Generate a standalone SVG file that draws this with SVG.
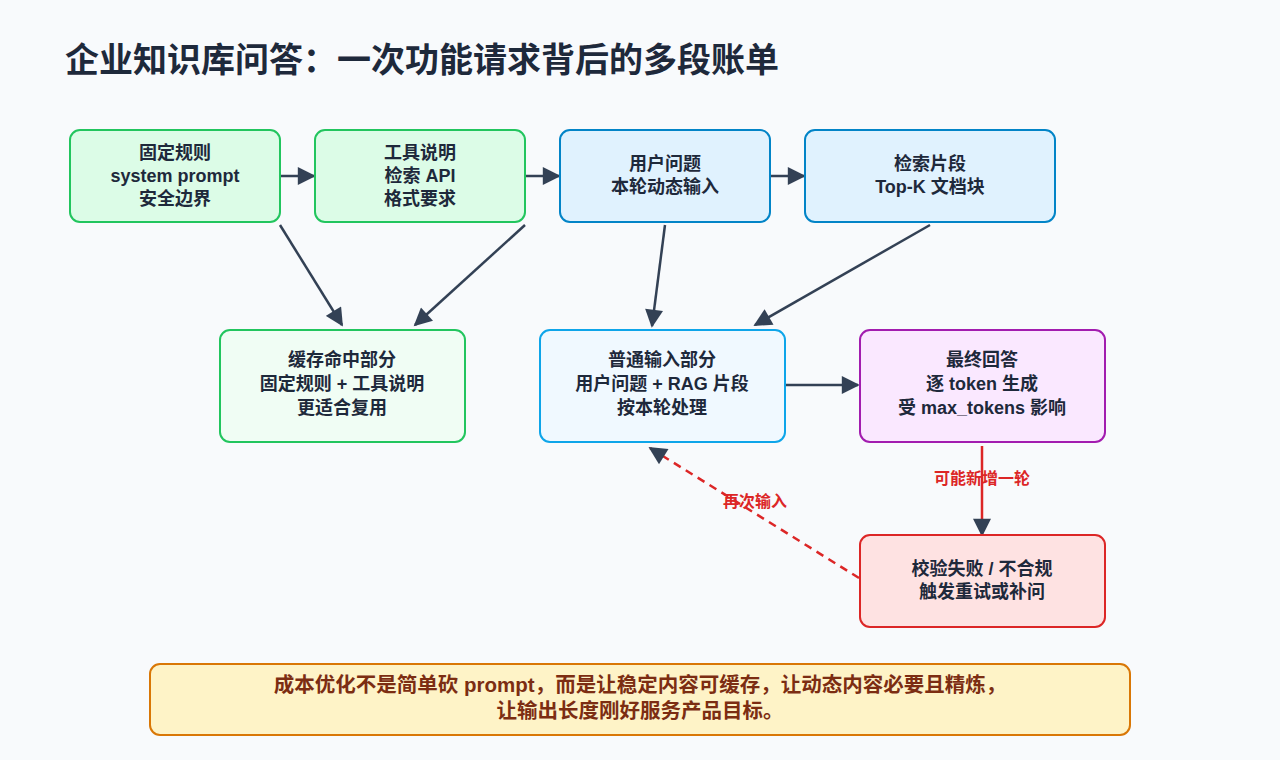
<svg xmlns="http://www.w3.org/2000/svg" width="1280" height="760" viewBox="0 0 1280 760">
<defs>
<marker id="ah" viewBox="0 0 10 10" refX="9" refY="5" markerWidth="20" markerHeight="18" orient="auto" markerUnits="userSpaceOnUse"><path d="M0,0 L10,5 L0,10 z" fill="#334155"/></marker>
<marker id="ahr" viewBox="0 0 10 10" refX="9" refY="5" markerWidth="20" markerHeight="18" orient="auto" markerUnits="userSpaceOnUse"><path d="M0,0 L10,5 L0,10 z" fill="#dc2626"/></marker>
<style>
text{font-family:"Liberation Sans","Noto Sans CJK SC",sans-serif;font-weight:bold;fill:#1e293b;text-anchor:middle}
.t{font-size:18px}
rect{stroke-width:2}
.c{stroke:#334155;stroke-width:2.5;fill:none}
</style>
</defs>
<rect x="0" y="0" width="1280" height="760" fill="#f8fafc" stroke="none"/>
<text x="65" y="72" style="font-size:34px;text-anchor:start">企业知识库问答：一次功能请求背后的多段账单</text>
<g id="connectors">
<line class="c" x1="280" y1="176" x2="314" y2="176" marker-end="url(#ah)"/>
<line class="c" x1="525" y1="176" x2="559" y2="176" marker-end="url(#ah)"/>
<line class="c" x1="770" y1="176" x2="804" y2="176" marker-end="url(#ah)"/>
<line class="c" x1="280" y1="225" x2="342" y2="325" marker-end="url(#ah)"/>
<line class="c" x1="525" y1="225" x2="415" y2="325" marker-end="url(#ah)"/>
<line class="c" x1="665" y1="225" x2="652" y2="326" marker-end="url(#ah)"/>
<line class="c" x1="930" y1="225" x2="755" y2="325" marker-end="url(#ah)"/>
<line class="c" x1="786" y1="385" x2="858" y2="385" marker-end="url(#ah)"/>
<line x1="982" y1="446" x2="982" y2="535" stroke="#dc2626" stroke-width="2.5" marker-end="url(#ah)"/>
<text x="982" y="484" style="font-size:16px;fill:#dc2626">可能新增一轮</text>
<line x1="859" y1="578" x2="650" y2="448" stroke="#dc2626" stroke-width="2.5" stroke-dasharray="8,6" marker-end="url(#ah)"/>
<text x="755" y="507" style="font-size:16px;fill:#dc2626">再次输入</text>
</g>
<g id="n1"><rect x="70" y="130" width="210" height="92" rx="10" fill="#dcfce7" stroke="#22c55e"/><text class="t" x="175" y="159">固定规则</text><text class="t" x="175" y="182">system prompt</text><text class="t" x="175" y="205">安全边界</text></g>
<g id="n2"><rect x="315" y="130" width="210" height="92" rx="10" fill="#dcfce7" stroke="#22c55e"/><text class="t" x="420" y="159">工具说明</text><text class="t" x="420" y="182">检索 API</text><text class="t" x="420" y="205">格式要求</text></g>
<g id="n3"><rect x="560" y="130" width="210" height="92" rx="10" fill="#e0f2fe" stroke="#0284c7"/><text class="t" x="665" y="170">用户问题</text><text class="t" x="665" y="193">本轮动态输入</text></g>
<g id="n4"><rect x="805" y="130" width="250" height="92" rx="10" fill="#e0f2fe" stroke="#0284c7"/><text class="t" x="930" y="170">检索片段</text><text class="t" x="930" y="193">Top-K 文档块</text></g>
<g id="n5"><rect x="220" y="330" width="245" height="112" rx="10" fill="#f0fdf4" stroke="#22c55e"/><text class="t" x="342" y="366">缓存命中部分</text><text class="t" x="342" y="390">固定规则 + 工具说明</text><text class="t" x="342" y="414">更适合复用</text></g>
<g id="n6"><rect x="540" y="330" width="245" height="112" rx="10" fill="#f0f9ff" stroke="#0ea5e9"/><text class="t" x="662" y="366">普通输入部分</text><text class="t" x="662" y="390">用户问题 + RAG 片段</text><text class="t" x="662" y="414">按本轮处理</text></g>
<g id="n7"><rect x="860" y="330" width="245" height="112" rx="10" fill="#fae8ff" stroke="#a21caf"/><text class="t" x="982" y="366">最终回答</text><text class="t" x="982" y="390">逐 token 生成</text><text class="t" x="982" y="414">受 max_tokens 影响</text></g>
<g id="n8"><rect x="860" y="535" width="245" height="92" rx="10" fill="#fee2e2" stroke="#dc2626"/><text class="t" x="982" y="575">校验失败 / 不合规</text><text class="t" x="982" y="598">触发重试或补问</text></g>
<g id="note"><rect x="150" y="664" width="980" height="71" rx="10" fill="#fef3c7" stroke="#d97706"/><text x="640" y="692" style="font-size:20.5px;fill:#7c2d12">成本优化不是简单砍 prompt，而是让稳定内容可缓存，让动态内容必要且精炼，</text><text x="640" y="718" style="font-size:20.5px;fill:#7c2d12">让输出长度刚好服务产品目标。</text></g>
</svg>
